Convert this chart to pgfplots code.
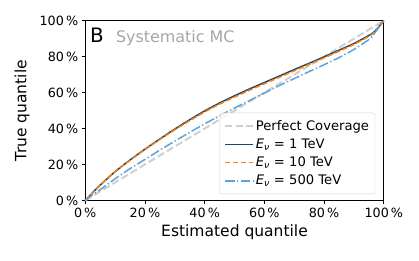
\documentclass[border=0pt]{standalone}
\usepackage{fontspec}
\setmainfont{DejaVu Sans}
\usepackage{pgfplots}
\pgfplotsset{compat=1.18}
\definecolor{cdark}{HTML}{1B4965}
\definecolor{corange}{HTML}{FF7F0E}
\definecolor{cblue}{HTML}{5FA3D6}
\definecolor{cgray}{HTML}{CFCFCF}
\definecolor{ctext}{HTML}{A6A6A6}
\begin{document}
\begin{tikzpicture}
\begin{axis}[
  scale only axis, width=299bp, height=180bp,
  xmin=0, xmax=100, ymin=0, ymax=100,
  xtick={0,20,...,100}, ytick={0,20,...,100},
  xticklabel={\pgfmathprintnumber{\tick}\,\%},
  yticklabel={\pgfmathprintnumber{\tick}\,\%},
  /pgf/number format/assume math mode=true,
  tick align=outside, tick pos=left,
  major tick length=3.5bp,
  tick style={black, line width=0.8bp},
  axis line style={line width=0.8bp},
  ticklabel style={font=\fontsize{12.8}{14}\selectfont},
  xticklabel style={yshift=-0.5bp},
  xlabel={Estimated quantile}, ylabel={True quantile},
  label style={font=\fontsize{15.6}{17}\selectfont},
  xlabel style={at={(axis description cs:0.5,-0.179)}, anchor=center},
  ylabel style={at={(axis description cs:-0.211,0.5)}, anchor=center},
  legend style={at={(axis description cs:0.4505,0.0356)}, anchor=south west,
    draw=black!18, rounded corners=2bp, fill=white, fill opacity=0.8, text opacity=1,
    font=\fontsize{13.2}{15}\selectfont, row sep=3bp, inner xsep=4bp, inner ysep=5.5bp},
  legend cell align=left,
  legend image code/.code={\draw[#1] (0bp,0bp) -- (28bp,0bp);},
  clip=false,
]
\addplot[cgray, line width=2bp, dash pattern=on 7.4bp off 3.2bp] coordinates {(0,0) (100,100)};
\addlegendentry{Perfect Coverage}
\addplot[cdark, line width=1.5bp, smooth, tension=0.4] coordinates {
(0,0) (2,3.5) (5,8.5) (10,16) (15,22.5) (20,28.5) (25,34.2) (30,39.7) (35,44.9) (40,49.8)
(45,54.2) (50,58.2) (55,62) (60,65.6) (65,69.2) (70,72.8) (75,76.3) (80,79.9) (85,83.6)
(90,87.3) (95,91.8) (97,94.1) (100,100)};
\addlegendentry{\textit{E}\textsubscript{\textit{ν}} = 1 TeV}
\addplot[corange, line width=1.5bp, dash pattern=on 5.5bp off 2.4bp, smooth, tension=0.4] coordinates {
(0,0) (2,3.5) (5,8.5) (10,16) (15,22.3) (20,28.3) (25,33.9) (30,39.3) (35,44.4) (40,49.2)
(45,53.6) (50,57.5) (55,61.3) (60,64.9) (65,68.5) (70,72.1) (75,75.7) (80,79.3) (85,83)
(90,86.8) (95,91.3) (97,93.8) (100,100)};
\addlegendentry{\textit{E}\textsubscript{\textit{ν}} = 10 TeV}
\addplot[cblue, line width=1.5bp, dash pattern=on 9.6bp off 2.4bp on 1.5bp off 2.4bp, smooth, tension=0.4] coordinates {
(0,0) (2,2.6) (5,6) (10,12) (15,17.7) (20,22.8) (25,28) (30,33) (35,37.9) (40,42.6)
(45,47.1) (50,51.4) (55,55.6) (60,59.7) (65,63.9) (70,67.8) (75,71.7) (80,75.5) (85,79.5)
(90,84) (95,89.5) (96,91) (100,100)};
\addlegendentry{\textit{E}\textsubscript{\textit{ν}} = 500 TeV}
\node[anchor=base west, inner sep=0pt, font=\fontsize{20}{22}\selectfont] at (axis description cs:0.0157,0.877) {B};
\node[anchor=base west, inner sep=0pt, font=\fontsize{16}{18}\selectfont, text=ctext] at (axis description cs:0.1027,0.88) {Systematic MC};
\end{axis}
\pgfresetboundingbox
\path (-85.3bp,-60.3bp) rectangle (334.2bp,200.7bp);
\end{tikzpicture}
\end{document}
